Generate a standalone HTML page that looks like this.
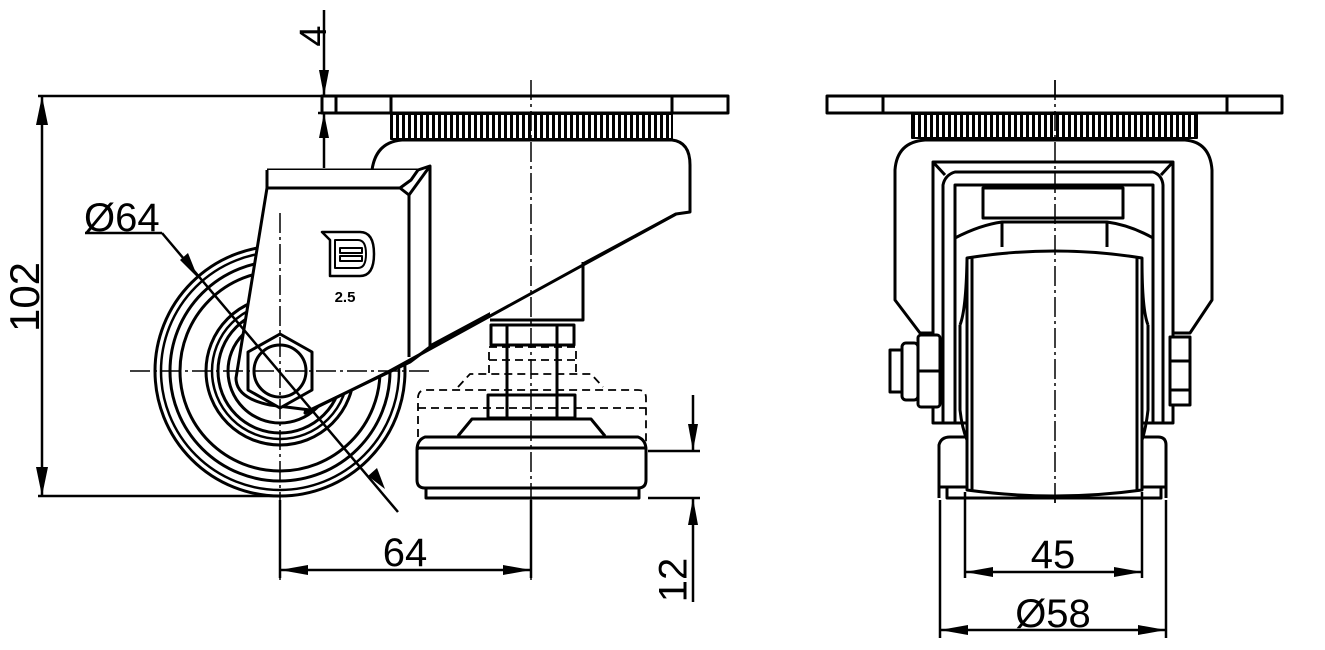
<!DOCTYPE html>
<html><head><meta charset="utf-8"><style>
html,body{margin:0;padding:0;background:#fff}
svg{display:block}
text{font-family:"Liberation Sans",sans-serif;fill:#000}
</style></head><body>
<svg width="1325" height="650" viewBox="0 0 1325 650" xmlns="http://www.w3.org/2000/svg">
<defs>
<pattern id="kn" width="6" height="10" patternUnits="userSpaceOnUse"><rect width="6" height="10" fill="#fff"/><rect width="3" height="10" fill="#000"/></pattern>
</defs>
<g fill="none" stroke="#000" stroke-width="3" stroke-linejoin="round">
<!-- ===== LEFT VIEW ===== -->
<!-- wheel -->
<circle cx="280" cy="371" r="125"/>
<circle cx="280" cy="371" r="119" stroke-width="2.5"/>
<circle cx="280" cy="371" r="110"/>
<circle cx="280" cy="371" r="100"/>
<circle cx="280" cy="371" r="74"/>
<circle cx="280" cy="371" r="68" stroke-width="2.5"/>
<circle cx="280" cy="371" r="62"/>
<circle cx="280" cy="371" r="52"/>
<!-- housing -->
<path d="M372,170 Q376,142 402,140 L672,140 Q690,142 690,165 L690,212 L676,214 L305,413 L372,170 Z" fill="#fff"/>
<!-- stem -->
<rect x="490" y="250" width="93" height="70" fill="#fff" stroke="none"/>
<path d="M583,262 L583,320 L490,320"/>
<!-- fork -->
<path d="M267,188 L236,378 Q236,398 270,405 L310,410 L410,362 L430,347 L430,170" fill="#fff"/>
<path d="M676,214 L388,372 L305,413"/>
<path d="M267,170 L418,170 L430,166 L430,347"/>
<path d="M267,170 L267,188 L400,188 L411,180 L418,170" fill="#fff"/>
<path d="M400,188 L409,195 L409,357"/>
<path d="M409,195 L430,166"/>
<!-- hex -->
<polygon points="280,334 312,352 312,390 280,408 248,390 248,352" fill="#fff"/>
<circle cx="280" cy="371" r="26"/>
<!-- plate -->
<rect x="322" y="96" width="406" height="17" fill="#fff"/>
<line x1="336" y1="96" x2="336" y2="113"/>
<line x1="391" y1="96" x2="391" y2="113"/>
<line x1="672" y1="96" x2="672" y2="113"/>
<rect x="391" y="114" width="281" height="25" fill="url(#kn)" stroke-width="2"/>
<!-- nut & rod -->
<path d="M491,325 L574,325 L574,345 L491,345 Z"/>
<line x1="507" y1="325" x2="507" y2="345"/><line x1="557" y1="325" x2="557" y2="345"/>
<line x1="507" y1="345" x2="507" y2="418"/><line x1="557" y1="345" x2="557" y2="418"/>
<rect x="488" y="395" width="87" height="23"/>
<path d="M458,436 L472,419 L591,419 L605,436"/>
<path d="M425,437 L638,437 Q646,440 646,450 L646,480 Q646,488 638,488 L425,488 Q417,488 417,480 L417,450 Q417,440 425,437 Z"/>
<line x1="417" y1="448" x2="646" y2="448"/>
<path d="M426,488 L426,498 L639,498 L639,488"/>
<!-- dashed -->
<g stroke-width="1.8" stroke-dasharray="8,5">
<path d="M418,450 L418,398 Q418,390 426,390 L638,390 Q646,390 646,398 L646,450"/>
<path d="M418,408 L646,408"/>
<path d="M458,387 L470,374 L591,374 L603,387"/>
<path d="M489,373 L489,347 L576,347 L576,373"/>
<path d="M489,360 L576,360"/>
</g>
<!-- logo -->
<path d="M322,232 L360,232 Q374,232 374,254 Q374,276 360,276 L330,276 L330,240 Z" stroke-width="2.5"/>
<path d="M335,240 L358,240 Q366,240 366,254 Q366,268 358,268 L335,268 Z" stroke-width="2"/>
<rect x="340" y="248" width="22" height="5" stroke-width="2"/><rect x="340" y="256" width="22" height="5" stroke-width="2"/>
<!-- centerlines -->
<g stroke-width="1.5" stroke-dasharray="20,4,3,4">
<line x1="280" y1="213" x2="280" y2="580"/>
<line x1="130" y1="371" x2="430" y2="371"/>
<line x1="531" y1="80" x2="531" y2="580"/>
<line x1="1055" y1="80" x2="1055" y2="505"/>
</g>
<!-- dims left -->
<g stroke-width="2.5">
<line x1="38" y1="96" x2="322" y2="96"/>
<line x1="38" y1="496" x2="280" y2="496"/>
<line x1="42" y1="96" x2="42" y2="496"/>
<line x1="324" y1="10" x2="324" y2="96"/>
<line x1="318" y1="113" x2="336" y2="113"/>
<line x1="324" y1="113" x2="324" y2="168"/>
<line x1="85" y1="233" x2="162" y2="233"/>
<line x1="162" y1="233" x2="398" y2="512"/>
<line x1="280" y1="500" x2="280" y2="578"/>
<line x1="531" y1="500" x2="531" y2="578"/>
<line x1="280" y1="570" x2="531" y2="570"/>
<line x1="648" y1="451" x2="700" y2="451"/>
<line x1="648" y1="498" x2="700" y2="498"/>
<line x1="693" y1="395" x2="693" y2="451"/>
<line x1="693" y1="498" x2="693" y2="602"/>
</g>
</g>
<g fill="#000">
<polygon points="42,96 36,125 48,125"/><polygon points="42,496 36,467 48,467"/>
<polygon points="324,96 319,70 329,70"/><polygon points="324,113 319,138 329,138"/>
<polygon points="198,278 180,260 188,253"/><polygon points="368,476 377,468 385,489"/>
<polygon points="280,570 308,565 308,575"/><polygon points="531,570 503,565 503,575"/>
<polygon points="693,451 688,424 698,424"/><polygon points="693,498 688,525 698,525"/>
<polygon points="965,572 993,567 993,577"/><polygon points="1142,572 1114,567 1114,577"/>
<polygon points="940,630 968,625 968,635"/><polygon points="1166,630 1138,625 1138,635"/>
</g>
<text x="316" y="36" font-size="38" transform="rotate(-90 316 36)" text-anchor="middle" dominant-baseline="middle">4</text>
<text x="28" y="297" font-size="42" transform="rotate(-90 28 297)" text-anchor="middle" dominant-baseline="middle">102</text>
<text x="84" y="231" font-size="40">Ø64</text>
<text x="405" y="566" font-size="40" text-anchor="middle">64</text>
<text x="676" y="580" font-size="40" transform="rotate(-90 676 580)" text-anchor="middle" dominant-baseline="middle">12</text>
<text x="1053" y="568" font-size="40" text-anchor="middle">45</text>
<text x="1053" y="627" font-size="40" text-anchor="middle">Ø58</text>
<text x="345" y="302" font-size="15" font-weight="bold" text-anchor="middle" font-family="Liberation Serif">2.5</text>
<!-- ===== RIGHT VIEW ===== -->
<g fill="none" stroke="#000" stroke-width="3" stroke-linejoin="round">
<path d="M895,300 L895,170 Q897,142 925,140 L1185,140 Q1210,142 1212,170 L1212,300 L1190,333 L920,333 Z" fill="#fff"/>
<rect x="827" y="96" width="455" height="17" fill="#fff"/>
<line x1="883" y1="96" x2="883" y2="113"/><line x1="1227" y1="96" x2="1227" y2="113"/>
<rect x="912" y="114" width="285" height="24" fill="url(#kn)" stroke-width="2"/>
<rect x="933" y="162" width="240" height="261" fill="#fff"/>
<path d="M943,423 L943,185 Q945,175 955,172 L1153,172 Q1162,175 1163,185 L1163,423"/>
<path d="M933,162 L945,175 M1173,162 L1161,175"/>
<path d="M955,423 L955,185 L1153,185 L1153,423"/>
<rect x="983" y="188" width="140" height="30"/>
<path d="M955,238 Q980,225 1002,222 L1107,222 Q1130,225 1153,238"/>
<path d="M1002,222 L1002,247 M1107,222 L1107,247"/>
<path d="M960,325 Q966,310 967,260 M1148,325 Q1142,310 1142,260"/>
<path d="M960,325 L960,410 Q962,428 967,440 M1148,325 L1148,410 Q1146,428 1142,440"/>
<path d="M939,498 L939,445 Q941,437 950,437 L967,437 M1142,437 L1158,437 Q1166,437 1166,445 L1166,498"/>
<path d="M947,487 L947,498 L1161,498 L1161,487 M939,487 L1166,487"/>
<path d="M967,258 Q1055,244 1142,258 L1142,490 Q1055,502 967,490 Z" fill="#fff"/>
<line x1="972" y1="258" x2="972" y2="490"/><line x1="1137" y1="258" x2="1137" y2="490"/>
<rect x="918" y="335" width="22" height="72" rx="3" fill="#fff"/><line x1="918" y1="371" x2="940" y2="371"/>
<rect x="902" y="343" width="16" height="57" rx="4" fill="#fff"/>
<rect x="890" y="350" width="12" height="42" fill="#fff"/>
<rect x="1170" y="337" width="20" height="68" fill="#fff"/><line x1="1170" y1="361" x2="1190" y2="361"/><line x1="1170" y1="390" x2="1190" y2="390"/>
<g stroke-width="2.5">
<line x1="965" y1="492" x2="965" y2="578"/><line x1="1142" y1="492" x2="1142" y2="578"/>
<line x1="940" y1="500" x2="940" y2="638"/><line x1="1166" y1="500" x2="1166" y2="638"/>
<line x1="965" y1="572" x2="1142" y2="572"/><line x1="940" y1="630" x2="1166" y2="630"/>
</g>
</g>
<line x1="1055" y1="80" x2="1055" y2="505" stroke="#000" stroke-width="1.5" stroke-dasharray="20,4,3,4"/>
</svg>
</body></html>
